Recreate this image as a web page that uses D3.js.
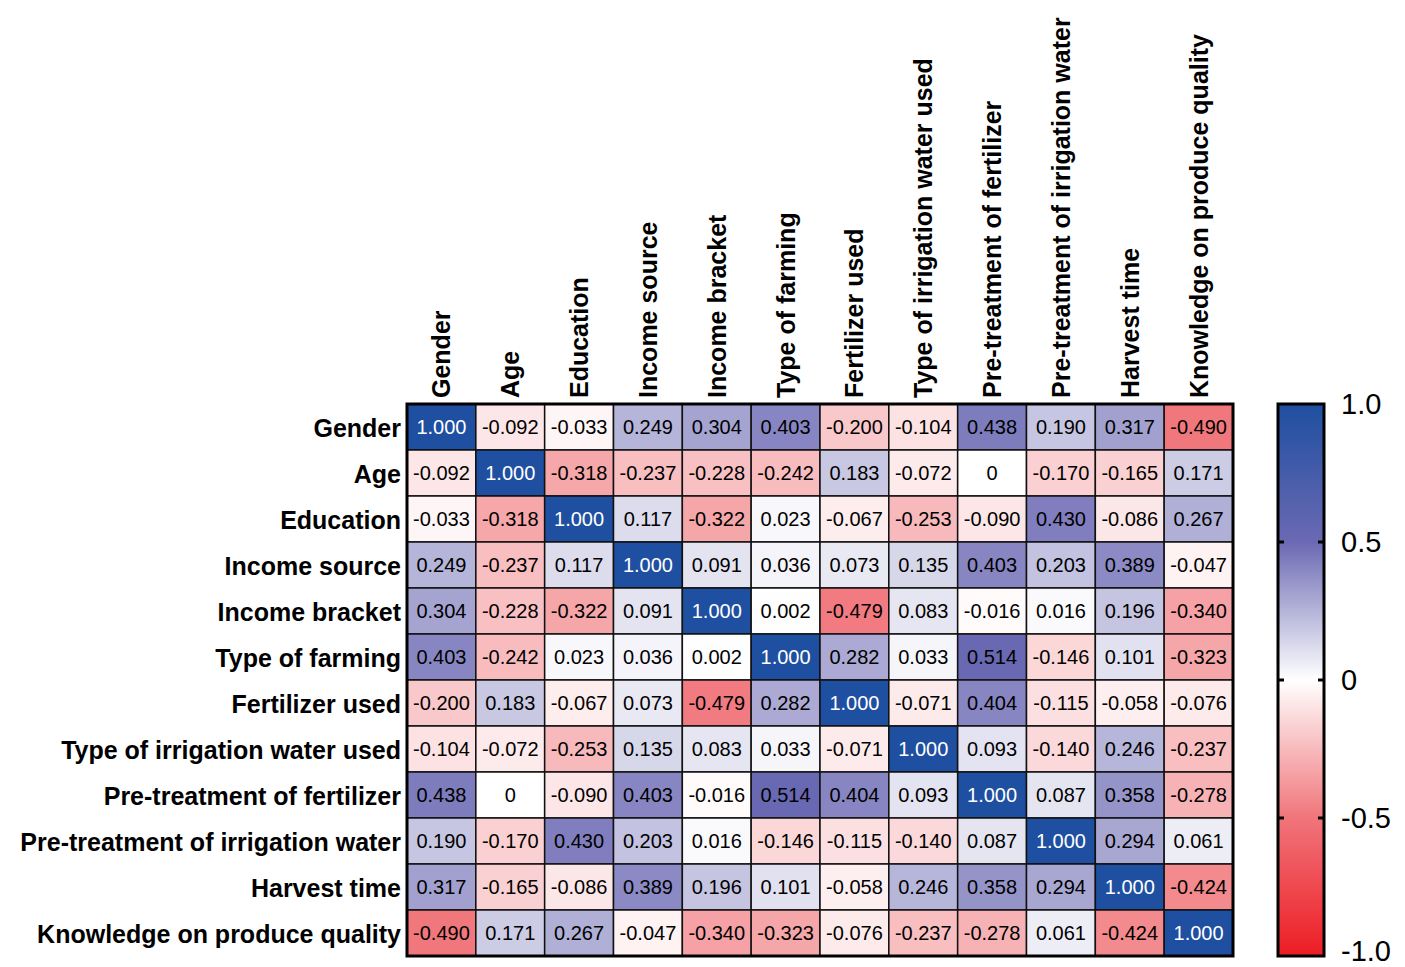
<!DOCTYPE html>
<html><head><meta charset="utf-8">
<script src="https://cdn.jsdelivr.net/npm/d3@7"></script>
<style>body{margin:0;background:#fff}svg{display:block}text{font-family:"Liberation Sans",Arial,sans-serif}</style>
</head><body><svg id="c" width="1405" height="967"></svg>
<script>
const variables = ["Gender","Age","Education","Income source","Income bracket","Type of farming","Fertilizer used","Type of irrigation water used","Pre-treatment of fertilizer","Pre-treatment of irrigation water","Harvest time","Knowledge on produce quality"];
const rGender      = [1.000,-0.092,-0.033,0.249,0.304,0.403,-0.200,-0.104,0.438,0.190,0.317,-0.490];
const rAge         = [-0.092,1.000,-0.318,-0.237,-0.228,-0.242,0.183,-0.072,0,-0.170,-0.165,0.171];
const rEducation   = [-0.033,-0.318,1.000,0.117,-0.322,0.023,-0.067,-0.253,-0.090,0.430,-0.086,0.267];
const rIncSource   = [0.249,-0.237,0.117,1.000,0.091,0.036,0.073,0.135,0.403,0.203,0.389,-0.047];
const rIncBracket  = [0.304,-0.228,-0.322,0.091,1.000,0.002,-0.479,0.083,-0.016,0.016,0.196,-0.340];
const rFarming     = [0.403,-0.242,0.023,0.036,0.002,1.000,0.282,0.033,0.514,-0.146,0.101,-0.323];
const rFertilizer  = [-0.200,0.183,-0.067,0.073,-0.479,0.282,1.000,-0.071,0.404,-0.115,-0.058,-0.076];
const rIrrigation  = [-0.104,-0.072,-0.253,0.135,0.083,0.033,-0.071,1.000,0.093,-0.140,0.246,-0.237];
const rPreFert     = [0.438,0,-0.090,0.403,-0.016,0.514,0.404,0.093,1.000,0.087,0.358,-0.278];
const rPreIrr      = [0.190,-0.170,0.430,0.203,0.016,-0.146,-0.115,-0.140,0.087,1.000,0.294,0.061];
const rHarvest     = [0.317,-0.165,-0.086,0.389,0.196,0.101,-0.058,0.246,0.358,0.294,1.000,-0.424];
const rKnowledge   = [-0.490,0.171,0.267,-0.047,-0.340,-0.323,-0.076,-0.237,-0.278,0.061,-0.424,1.000];
const matrix = [rGender,rAge,rEducation,rIncSource,rIncBracket,rFarming,rFertilizer,rIrrigation,rPreFert,rPreIrr,rHarvest,rKnowledge];
const legendTicks = [1.0,0.5,0,-0.5,-1.0];

const svg = d3.select("#c");
const L = 407, T = 404, R = 1233, B = 956;
const x = d3.scaleBand().domain(variables).range([L,R]);
const y = d3.scaleBand().domain(variables).range([T,B]);
const color = d3.scaleLinear().domain([-1,-0.5,0,0.5,1])
  .range(["#ed1c24","#f0757a","#ffffff","#6b69b3","#1f4fa0"]).clamp(true);

const cells = [];
matrix.forEach((row,i)=>row.forEach((v,j)=>cells.push({r:variables[i],c:variables[j],v})));

svg.append("g").selectAll("rect").data(cells).join("rect")
  .attr("x",d=>x(d.c)).attr("y",d=>y(d.r))
  .attr("width",x.bandwidth()).attr("height",y.bandwidth())
  .attr("fill",d=>color(d.v)).attr("stroke","#111").attr("stroke-width",1.5);

const fmt = v => v===0 ? "0" : d3.format(".3f")(v).replace("−","-");
svg.append("g").selectAll("text").data(cells).join("text")
  .attr("x",d=>x(d.c)+x.bandwidth()/2).attr("y",d=>y(d.r)+y.bandwidth()/2)
  .attr("text-anchor","middle").attr("dominant-baseline","central")
  .attr("font-size",20).attr("fill",d=>d.v>0.7?"#fff":"#000")
  .text(d=>fmt(d.v));

svg.append("rect").attr("x",L).attr("y",T).attr("width",R-L).attr("height",B-T)
  .attr("fill","none").attr("stroke","#000").attr("stroke-width",3);

// row labels
svg.append("g").selectAll("text").data(variables).join("text")
  .attr("x",L-6).attr("y",d=>y(d)+y.bandwidth()/2+1)
  .attr("text-anchor","end").attr("dominant-baseline","central")
  .attr("font-size",25).attr("font-weight","bold").text(d=>d);

// column labels
svg.append("g").selectAll("text").data(variables).join("text")
  .attr("transform",d=>`translate(${x(d)+x.bandwidth()/2+9},${T-6}) rotate(-90)`)
  .attr("text-anchor","start")
  .attr("font-size",25).attr("font-weight","bold").text(d=>d);

// colour bar
const cbL = 1278, cbW = 46;
const cy = d3.scaleLinear().domain([-1,1]).range([B,T]);
const defs = svg.append("defs");
const grad = defs.append("linearGradient").attr("id","cb").attr("x1",0).attr("y1",1).attr("x2",0).attr("y2",0);
d3.range(0,1.0001,0.05).forEach(t=>{
  grad.append("stop").attr("offset",t).attr("stop-color",color(-1+2*t));
});
svg.append("rect").attr("x",cbL).attr("y",T).attr("width",cbW).attr("height",B-T)
  .attr("fill","url(#cb)").attr("stroke","#000").attr("stroke-width",3);
svg.append("g").selectAll("path").data(legendTicks.filter(t=>Math.abs(t)<1)).join("path")
  .attr("d",t=>`M${cbL},${cy(t)}h6M${cbL+cbW},${cy(t)}h-6`)
  .attr("stroke","#000").attr("stroke-width",3);
svg.append("g").selectAll("text").data(legendTicks).join("text")
  .attr("x",cbL+cbW+17).attr("y",t=>cy(t) + (t===-1 ? -5 : 0))
  .attr("dominant-baseline","central").attr("font-size",29)
  .text(t=>t===0?"0":d3.format(".1f")(t).replace("−","-"));
</script></body></html>
